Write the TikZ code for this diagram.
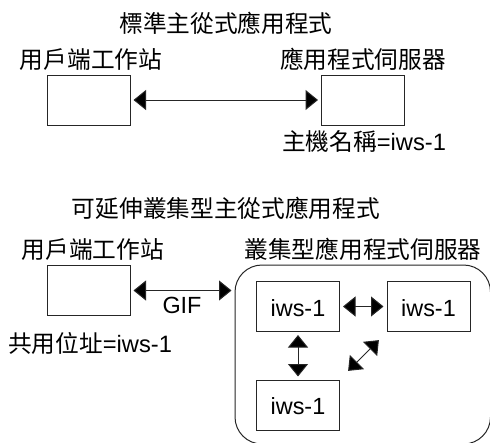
\documentclass[tikz,border=0pt]{standalone}
\usepackage{fontspec}
\setmainfont{Liberation Sans}
\newfontfamily\cjk{Noto Sans CJK TC}
\usetikzlibrary{arrows.meta}
\tikzset{
  x=1pt,y=-1pt,
  boxn/.style={draw=black!85,line width=1pt,minimum width=83pt,minimum height=50pt,inner sep=0pt,anchor=center},
  cluster/.style={draw=black!85,line width=1pt,rounded corners=27pt,minimum width=255.5pt,minimum height=179pt,inner sep=0pt},
  lab/.style={anchor=base,inner sep=0pt,font=\fontsize{23.7}{26}\selectfont},
  lat/.style={anchor=base,inner sep=0pt,font=\fontsize{23.4}{26}\selectfont},
  biarrow/.style={draw=black!85,line width=1pt,{Triangle[length=12.5pt,width=20pt,fill=black]}-{Triangle[length=12.5pt,width=20pt,fill=black]},shorten <=3pt,shorten >=3pt}
}
\begin{document}
\begin{tikzpicture}
\useasboundingbox (0,0) rectangle (490,442);
\fill[white] (0,0) rectangle (490,442);
\node[lab] (t1) at (226,32) {\cjk 標準主從式應用程式};
\node[lab] (c1) at (91,68) {\cjk 用戶端工作站};
\node[lab] (s1) at (363,68) {\cjk 應用程式伺服器};
\node[boxn] (a) at (88.5,100) {};
\node[boxn] (b) at (363,100) {};
\node[lab] (h) at (364,150) {{\cjk 主機名稱}=iws-1};
\draw[biarrow] (a.east) -- (b.west);
\node[lab] (t2) at (226,217) {\cjk 可延伸叢集型主從式應用程式};
\node[lab] (c2) at (93,258) {\cjk 用戶端工作站};
\node[lab] (s2) at (363,258) {\cjk 叢集型應用程式伺服器};
\node[boxn] (d) at (88.5,290.5) {};
\node[cluster] (cl) at (362.75,354.5) {};
\draw[biarrow] (d.east) -- (d.east -| cl.west);
\node[lat] (g) at (182,313) {GIF};
\node[lab] (p) at (90,352) {{\cjk 共用位址}=iws-1};
\node[boxn] (x) at (298,306.5) {};
\node[boxn] (y) at (428.5,306.5) {};
\node[boxn] (z) at (298,405) {};
\node[lat] at (298,316) {iws-1};
\node[lat] at (428.5,316) {iws-1};
\node[lat] at (298,414) {iws-1};
\draw[biarrow] (x.east) -- (y.west);
\draw[biarrow] (x.south) -- (z.north);
\coordinate (dl) at (346,373);
\coordinate (dr) at (381,338);
\draw[biarrow] (dl) -- (dr);
\end{tikzpicture}
\end{document}
